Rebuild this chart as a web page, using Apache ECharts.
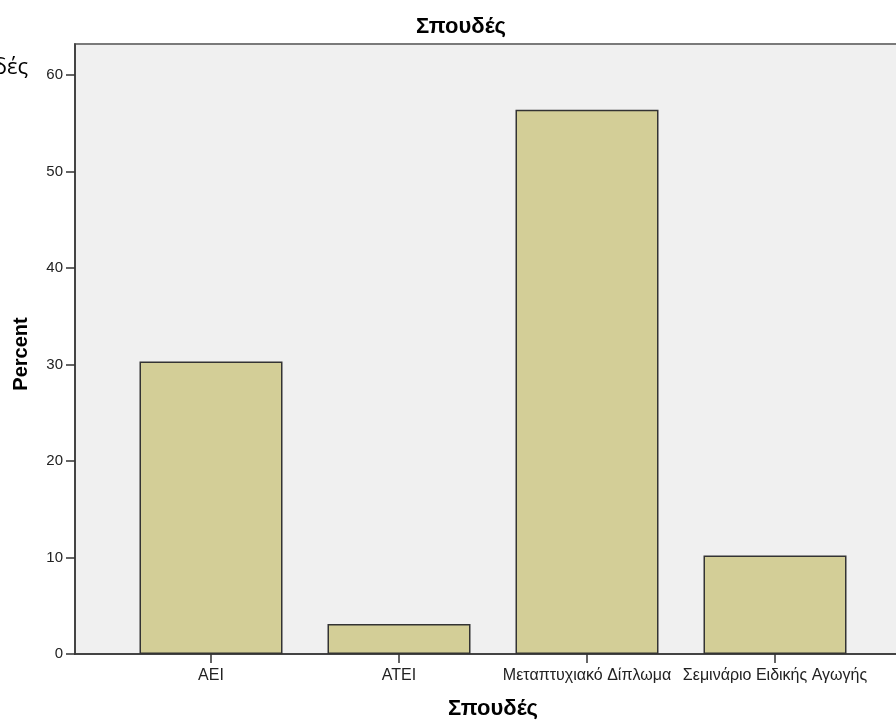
<!DOCTYPE html>
<html>
<head>
<meta charset="utf-8">
<script src="https://cdn.jsdelivr.net/npm/echarts@6/dist/echarts.min.js"></script>
<style>
html,body{margin:0;padding:0;background:#fff;}
#chart{width:896px;height:722px;}
</style>
</head>
<body>
<div id="chart"></div>
<script>
var categories = ['ΑΕΙ', 'ΑΤΕΙ', 'Μεταπτυχιακό Δίπλωμα', 'Σεμινάριο Ειδικής Αγωγής'];
var percentValues = [30.3, 3.1, 56.4, 10.2];
var yTickValues = [0, 10, 20, 30, 40, 50, 60];
var chartTitle = 'Σπουδές';
var xAxisTitle = 'Σπουδές';
var yAxisTitle = 'Percent';
var cutText = 'Σπουδές';

var chart = echarts.init(document.getElementById('chart'));
var font = 'Liberation Sans, Arial, sans-serif';
chart.setOption({
  animation: false,
  title: {
    text: chartTitle,
    left: 456,
    top: 11,
    textAlign: 'center',
    textStyle: {fontFamily: font, fontSize: 22, fontWeight: 'bold', color: '#000'}
  },
  graphic: [{
    type: 'text',
    right: 868,
    top: 57,
    style: {text: cutText, fontFamily: 'Open Sans, sans-serif', fontSize: 22, fill: '#000'}
  }],
  grid: [
    {left: 75, width: 840, top: 44, bottom: 68, show: true, outerBoundsMode: 'none', backgroundColor: '#f0f0f0', borderColor: '#7a7a7a', borderWidth: 2},
    {left: 117, right: 27, top: 44, bottom: 68, outerBoundsMode: 'none'}
  ],
  xAxis: [
    {gridIndex: 0, type: 'value', min: 0, max: 1, axisLine: {show: true, onZero: false, lineStyle: {color: '#333', width: 1.5}}, axisTick: {show: false}, axisLabel: {show: false}, splitLine: {show: false}},
    {gridIndex: 1, type: 'category', data: categories,
      axisLine: {show: false},
      axisTick: {show: true, alignWithLabel: true, length: 9, lineStyle: {color: '#333', width: 1.5}},
      axisLabel: {interval: 0, margin: 14, fontFamily: font, fontSize: 16, color: '#222'},
      name: xAxisTitle, nameLocation: 'middle', nameGap: 44,
      nameTextStyle: {fontFamily: font, fontSize: 22, fontWeight: 'bold', color: '#000'}
    }
  ],
  yAxis: [
    {gridIndex: 0, type: 'value', min: 0, max: 1, show: false},
    {gridIndex: 1, type: 'value', min: 0, max: 63.2, interval: 10, offset: 42,
      axisLine: {show: true, onZero: false, lineStyle: {color: '#333', width: 1.5}},
      axisTick: {show: true, length: 9, customValues: yTickValues, lineStyle: {color: '#333', width: 1.5}},
      axisLabel: {customValues: yTickValues, margin: 12, fontFamily: font, fontSize: 15, color: '#222'},
      splitLine: {show: false},
      name: yAxisTitle, nameLocation: 'middle', nameRotate: 90, nameGap: 44,
      nameTextStyle: {fontFamily: font, fontSize: 20, fontWeight: 'bold', color: '#000', padding: [0, 10, 0, 0]}
    }
  ],
  series: [{
    type: 'bar',
    xAxisIndex: 1, yAxisIndex: 1,
    data: percentValues,
    barWidth: 143,
    itemStyle: {color: '#d3ce97', borderColor: '#333', borderWidth: 1.5}
  }]
});
</script>
</body>
</html>
